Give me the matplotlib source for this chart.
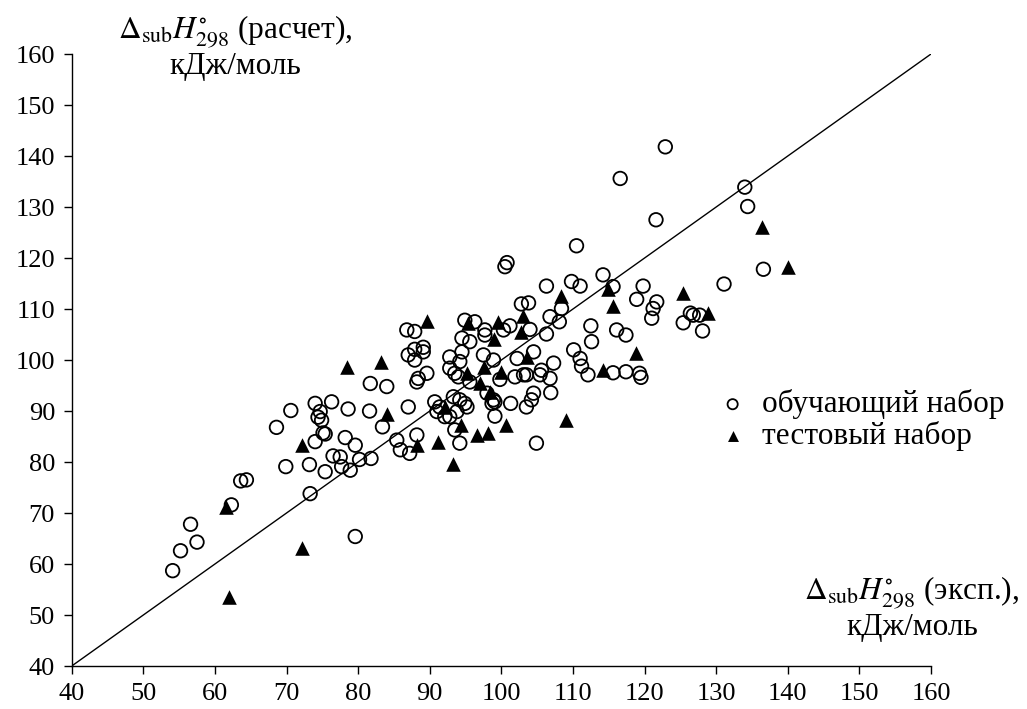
import matplotlib
matplotlib.use('Agg')
import matplotlib.pyplot as plt

plt.rcParams.update({
    'font.family': 'Liberation Serif',
    'mathtext.fontset': 'stix',
    'axes.linewidth': 1.0,
    'xtick.direction': 'out',
    'ytick.direction': 'out',
})

# обучающий набор (training set): experimental vs calculated, kJ/mol
train_x = [54.1, 55.2, 56.6, 57.5, 62.3, 63.6, 64.4, 68.6, 69.9, 70.6,
           73.2, 73.3, 74.0, 74.7, 74.4, 74.9, 75.1, 74.0, 75.4, 75.4,
           76.3, 76.5, 77.5, 77.7, 78.2, 78.6, 78.9, 79.6, 79.6, 80.2,
           81.8, 81.7, 81.6, 84.0, 83.4, 85.4, 85.9, 87.2, 87.0, 88.2,
           86.8, 87.9, 87.0, 87.9, 89.1, 89.1, 87.9, 88.4, 89.6, 88.2,
           90.7, 91.4, 91.0, 92.1, 93.3, 94.2, 94.9, 95.2, 93.8, 92.8,
           93.5, 94.2, 94.9, 96.3, 97.7, 97.7, 100.3, 94.5, 95.6, 94.5,
           92.8, 94.2, 97.5, 98.9, 92.8, 93.5, 94.0, 95.6, 99.8, 98.0,
           98.9, 99.1, 98.7, 99.1, 101.3, 100.8, 100.5, 106.3, 109.8, 111.0,
           114.2, 115.6, 119.8, 118.9, 108.4, 106.8, 108.1, 106.3, 102.8, 103.8,
           104.0, 101.2, 112.5, 112.6, 116.1, 117.4, 110.1, 111.0, 111.2, 112.1,
           115.6, 117.4, 119.3, 119.5, 104.5, 102.2, 107.3, 101.9, 103.1, 103.5,
           105.4, 105.6, 106.8, 106.9, 104.5, 104.2, 103.5, 104.9, 110.5, 116.6,
           121.6, 122.9, 134.0, 134.4, 136.6, 131.1, 125.4, 126.4, 126.8, 127.7,
           128.1, 121.7, 121.2, 121.0]
train_y = [58.7, 62.6, 67.8, 64.3, 71.6, 76.3, 76.5, 86.8, 79.1, 90.1,
           79.5, 73.8, 91.5, 89.9, 88.8, 88.2, 85.7, 84.0, 85.5, 78.1,
           91.8, 81.2, 81.0, 79.1, 84.8, 90.4, 78.4, 83.3, 65.4, 80.5,
           80.7, 95.4, 90.0, 94.8, 86.9, 84.3, 82.4, 81.7, 90.8, 85.3,
           105.9, 105.6, 101.0, 102.1, 102.5, 101.6, 100.0, 96.4, 97.4, 95.7,
           91.8, 90.8, 89.9, 88.9, 92.8, 92.2, 91.5, 90.8, 89.9, 88.9,
           86.3, 83.7, 107.8, 107.5, 105.9, 104.9, 105.9, 104.3, 103.6, 101.6,
           100.6, 99.7, 101.0, 100.0, 98.4, 97.4, 96.7, 95.7, 96.2, 93.5,
           92.2, 91.8, 91.5, 89.0, 91.5, 119.1, 118.3, 114.5, 115.4, 114.5,
           116.7, 114.4, 114.5, 111.9, 110.1, 108.5, 107.5, 105.1, 111.0, 111.2,
           106.0, 106.7, 106.7, 103.6, 105.9, 104.9, 102.0, 100.3, 98.8, 97.1,
           97.5, 97.7, 97.4, 96.6, 101.6, 100.3, 99.4, 96.7, 97.1, 97.1,
           97.1, 98.0, 96.4, 93.6, 93.5, 92.2, 90.8, 83.7, 122.4, 135.6,
           127.5, 141.8, 133.9, 130.1, 117.8, 114.9, 107.3, 109.2, 108.8, 108.8,
           105.7, 111.4, 110.1, 108.2]

# тестовый набор (test set)
test_x = [61.9, 61.6, 72.1, 72.1, 78.5, 83.2, 84.1, 88.2, 89.6, 91.1,
          92.1, 93.3, 94.3, 96.6, 98.2, 100.7, 95.4, 99.6, 99.0, 95.2,
          97.6, 100.0, 97.0, 98.4, 108.4, 103.0, 102.8, 103.6, 114.2, 118.8,
          114.9, 115.6, 109.0, 125.4, 128.8, 136.4, 140.0]
test_y = [53.6, 71.2, 63.1, 83.3, 98.6, 99.7, 89.5, 83.3, 107.7, 84.0,
          90.8, 79.7, 87.3, 85.3, 85.7, 87.3, 107.2, 107.5, 104.1, 97.5,
          98.7, 97.7, 95.4, 93.8, 112.5, 108.6, 105.5, 100.6, 98.0, 101.3,
          113.9, 110.6, 88.2, 113.1, 109.2, 126.1, 118.2]

ticks = list(range(40, 161, 10))
lims = [40, 160]

fig = plt.figure(figsize=(10.27, 7.09), dpi=100)
ax = fig.add_axes([0.0698, 0.0606, 0.8367, 0.8632])

ax.plot(lims, lims, color='black', lw=1.0, zorder=1)
ax.scatter(train_x, train_y, s=95, facecolors='none', edgecolors='black',
           linewidths=1.3, marker='o', zorder=3, label='обучающий набор')
ax.scatter(test_x, test_y, s=110, color='black', marker='^', linewidths=0,
           zorder=4, label='тестовый набор')

ax.set_xlim(lims)
ax.set_ylim(lims)
ax.set_xticks(ticks)
ax.set_yticks(ticks)
for s in ('top', 'right'):
    ax.spines[s].set_visible(False)
ax.tick_params(labelsize=19, length=6, width=1.0, pad=6)

leg = ax.legend(loc='upper left', bbox_to_anchor=(0.751, 0.452), frameon=False,
                fontsize=22.5, markerscale=0.75, handletextpad=0.45,
                labelspacing=0.05, borderaxespad=0, handlelength=1.0,
                borderpad=0)

fig.text(0.229, 0.98, '$\\Delta_{\\mathrm{sub}}H^{\\circ}_{298}$ (расчет),\nкДж/моль',
         ha='center', va='top', fontsize=22.5, linespacing=1.05)
fig.text(0.888, 0.142, '$\\Delta_{\\mathrm{sub}}H^{\\circ}_{298}$ (эксп.),\nкДж/моль',
         ha='center', va='center', fontsize=22.5, linespacing=1.05)

fig.savefig('out.png', dpi=100)
